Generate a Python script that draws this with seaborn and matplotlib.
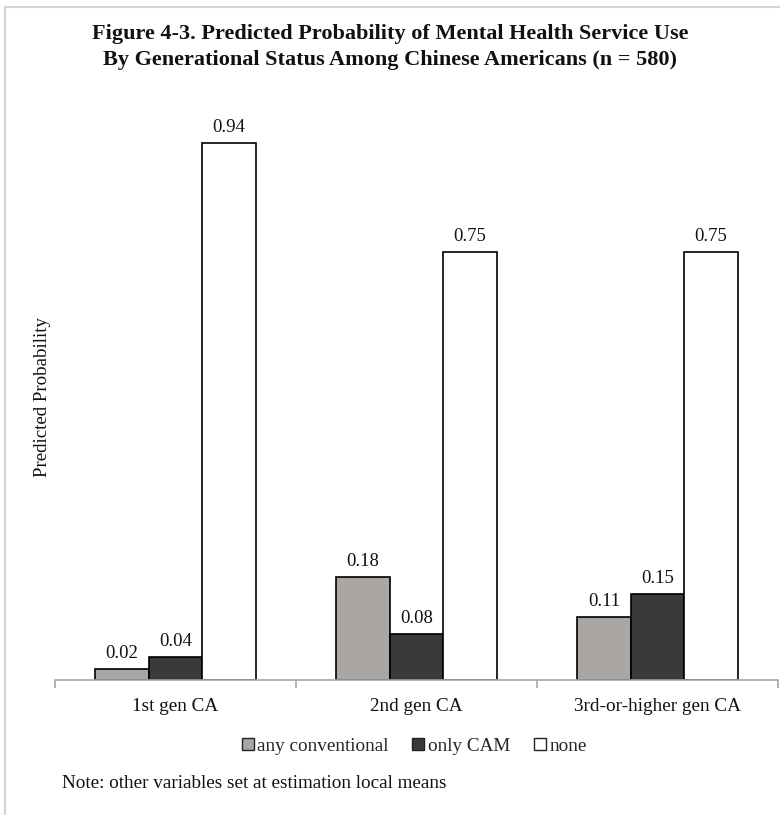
import matplotlib
matplotlib.use("Agg")
import matplotlib.pyplot as plt
from matplotlib.patches import Rectangle
from matplotlib.lines import Line2D
import seaborn as sns
import pandas as pd

# Predicted probabilities by generational status
generations = ["1st gen CA", "2nd gen CA", "3rd-or-higher gen CA"]
service_types = ["any conventional", "only CAM", "none"]
any_conventional = [0.02, 0.18, 0.11]
only_cam = [0.04, 0.08, 0.15]
none_use = [0.94, 0.75, 0.75]
bar_colors = ["#a9a6a4", "#3a3a3a", "#ffffff"]

rows = []
for series_name, values in zip(service_types, [any_conventional, only_cam, none_use]):
    for gen, v in zip(generations, values):
        rows.append({"generation": gen, "service": series_name, "prob": v})
df = pd.DataFrame(rows)

sns.set_theme(style="white")
plt.rcParams["font.family"] = ["Liberation Serif", "DejaVu Serif"]

fig = plt.figure(figsize=(7.8, 8.15), dpi=100)
ax = fig.add_axes([55 / 780, 1 - 680 / 815, (778 - 55) / 780, 571 / 815])

sns.barplot(
    data=df, x="generation", y="prob", hue="service",
    order=generations, hue_order=service_types,
    palette=bar_colors, width=0.666, gap=0,
    edgecolor="black", linewidth=1.2, saturation=1,
    legend=False, ax=ax,
)

# Value labels above each bar
for container in ax.containers:
    ax.bar_label(container, fmt="%.2f", padding=5, fontsize=13.5, color="#111111")

ax.set_xlim(-0.5, 2.5)
ax.set_ylim(0, 1.0)
ax.set_yticks([])
ax.set_xlabel("")
ax.set_ylabel("")
for side in ["top", "right", "left"]:
    ax.spines[side].set_visible(False)
ax.spines["bottom"].set_color("#a6a6a6")
ax.spines["bottom"].set_linewidth(1.2)

# Category labels centered, tick marks at category boundaries
ax.set_xticks([0, 1, 2])
ax.set_xticklabels(generations, fontsize=13.8, color="#111111")
ax.tick_params(axis="x", which="major", bottom=True, length=0, pad=13)
ax.set_xticks([-0.5, 0.5, 1.5, 2.5], minor=True)
ax.tick_params(axis="x", which="minor", bottom=True, length=6, width=1.2,
               color="#a6a6a6", direction="out")

fig.text(43 / 780, 1 - 397 / 815, "Predicted Probability", rotation=90,
         ha="center", va="center", fontsize=13.6, color="#111111")

fig.text(0.5, 1 - 47 / 815,
         "Figure 4-3. Predicted Probability of Mental Health Service Use\n"
         "By Generational Status Among Chinese Americans (n = 580)",
         ha="center", va="center", fontsize=16, fontweight="bold",
         linespacing=1.4, color="#111111")

handles = [
    Line2D([0], [0], marker="s", linestyle="none", markersize=9,
           markerfacecolor=c, markeredgecolor="#222222", markeredgewidth=1.0)
    for c in bar_colors
]
fig.legend(handles, service_types, loc="center", bbox_to_anchor=(414 / 780, 1 - 746 / 815),
           ncol=3, frameon=False, fontsize=13.8, handlelength=0.7, handletextpad=0.15,
           columnspacing=1.2)

fig.text(62 / 780, 1 - 783 / 815, "Note: other variables set at estimation local means",
         ha="left", va="center", fontsize=13.8, color="#111111")

# Outer frame
fig.patches.append(Rectangle((5 / 780, -0.05), 1.0, 1 - 7 / 815 + 0.05,
                             transform=fig.transFigure, fill=False,
                             edgecolor="#d4d4d4", linewidth=1.5))

fig.savefig("out.png", dpi=100, facecolor="white")
